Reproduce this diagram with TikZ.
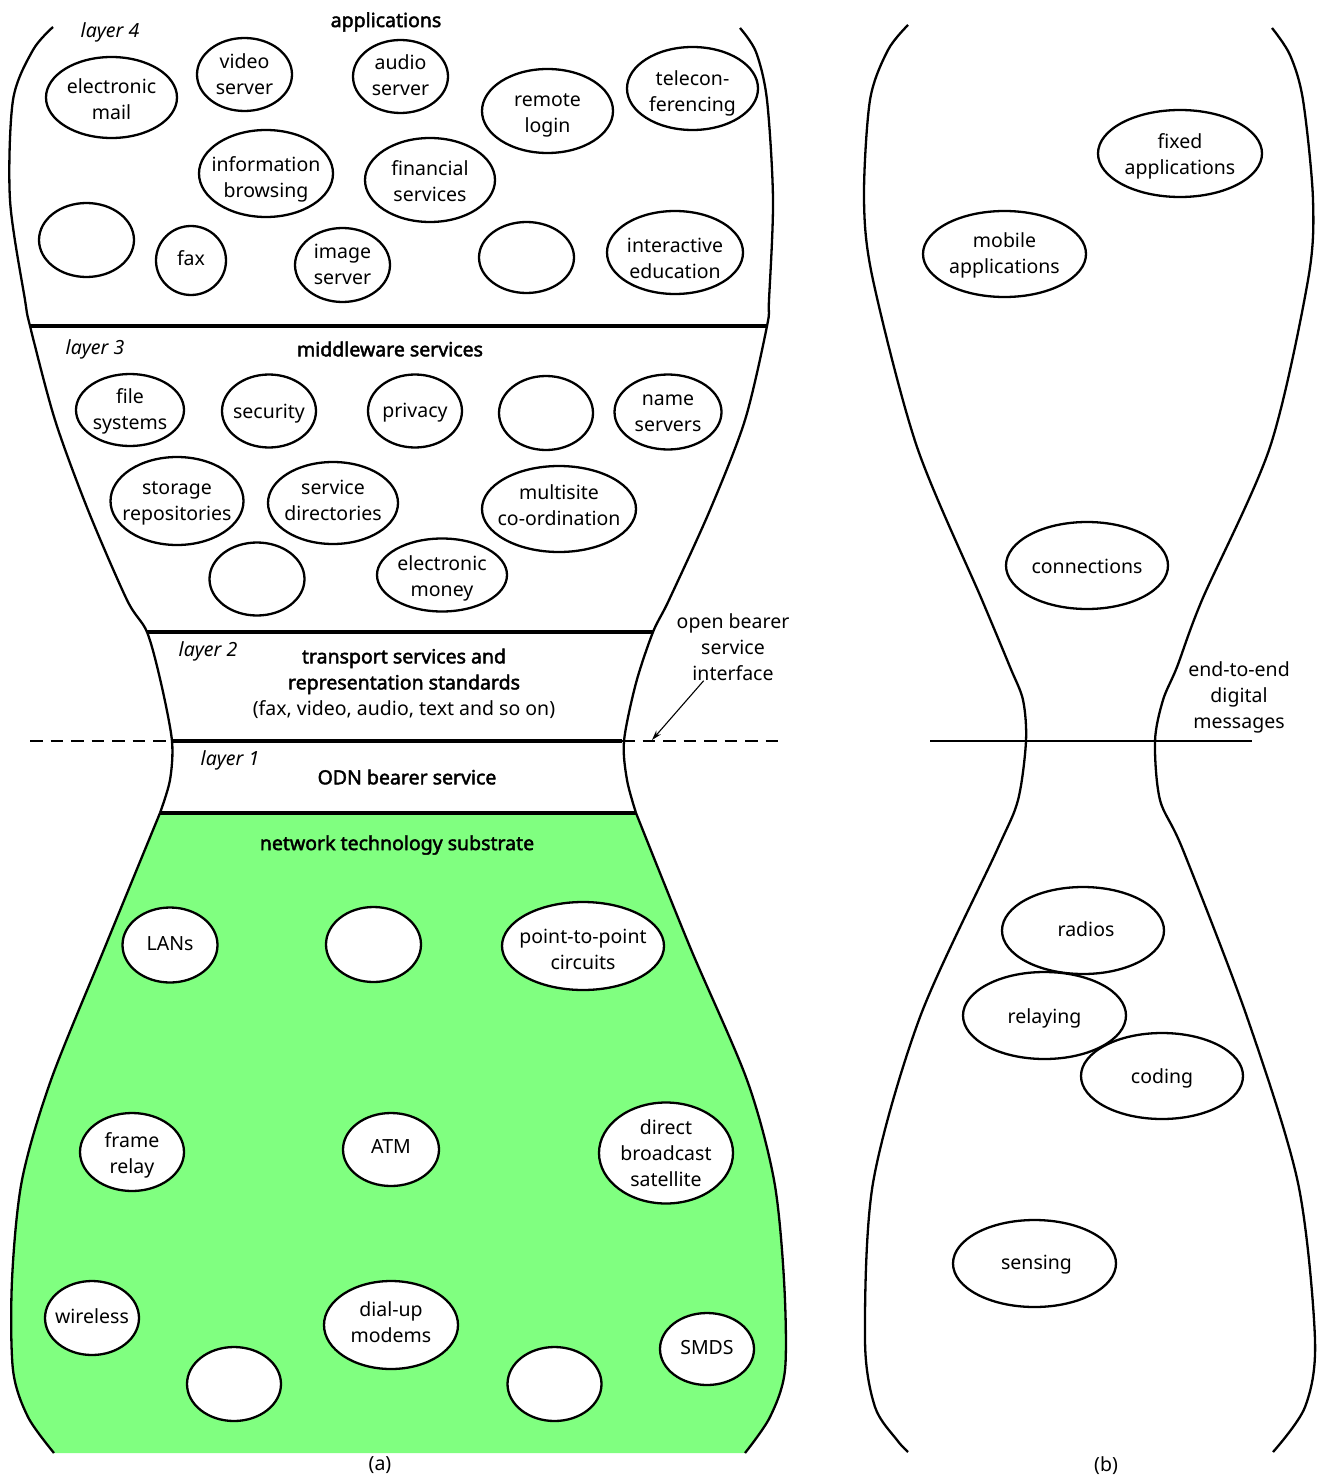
\documentclass[tikz,border=0pt]{standalone}
\usepackage{fontspec}
\setmainfont{Noto Sans}[AutoFakeBold=2.2]
\usetikzlibrary{shapes.geometric,arrows.meta}
\definecolor{subgreen}{RGB}{128,255,128}
\newcommand\dfont{\fontsize{19.5pt}{26pt}\selectfont}
\begin{document}
\begin{tikzpicture}[x=1pt,y=-1pt,
  txt/.style={font=\dfont, align=center, inner sep=0pt},
  bub/.style n args={4}{ellipse, draw, fill=white, line width=2.3pt,
     minimum width=#1pt, minimum height=#2pt, inner sep=0pt,
     label={[txt,yshift=#3pt]center:#4}},
  bnd/.style={line width=2.3pt},
  layerline/.style={line width=3.2pt},
  dashline/.style={line width=2.2pt, dash pattern=on 12.8pt off 7.7pt},
  hdr/.style={txt, font=\dfont\bfseries},
  lay/.style={txt, font=\dfont\itshape}]
\useasboundingbox (0,0) rectangle (1316,1479);

% ---------- (a) green substrate ----------
\fill[subgreen] plot[smooth] coordinates {(160,813) (105,947) (51,1080) (22,1180) (12,1280) (13,1370) (28,1417) (54,1453)}
  -- plot[smooth] coordinates {(745,1453) (770,1417) (785,1370) (784,1280) (774,1180) (747,1080) (690,947) (636,813)} -- cycle;

% ---------- (a) boundaries ----------
\draw[bnd] plot[smooth] coordinates {(53,27) (33,50) (13,100) (10,200) (25,300) (30,326) (55,420) (88,510) (127,600) (147,632) (161,683) (172,741) (170,780) (160,813)};
\draw[bnd] plot[smooth] coordinates {(160,813) (105,947) (51,1080) (22,1180) (12,1280) (13,1370) (28,1417) (54,1453)};
\draw[bnd] plot[smooth] coordinates {(740,28) (756,52) (767,100) (773,200) (769,300) (767,326) (745,420) (710,510) (669,600) (653,632) (636,683) (624,741) (627,780) (636,813)};
\draw[bnd] plot[smooth] coordinates {(636,813) (690,947) (747,1080) (774,1180) (784,1280) (785,1370) (770,1417) (745,1453)};

% layer separators
\coordinate (l43a) at (30,326);  \coordinate (l43b) at (767,326);
\coordinate (l32a) at (147,632); \coordinate (l32b) at (653,632);
\coordinate (l21a) at (172,741); \coordinate (l21b) at (622,741);
\coordinate (l10a) at (160,813); \coordinate (l10b) at (636,813);
\coordinate (dsa) at (30,741);   \coordinate (dsb) at (778,741);
\draw[layerline] (l43a) -- (l43b);
\draw[layerline] (l32a) -- (l32b);
\draw[layerline] (l21a) -- (l21b);
\draw[layerline] (l10a) -- (l10b);
\draw[dashline] (dsa) -- (l21a);
\draw[dashline] (l21b) -- (dsb);

% ---------- (a) texts ----------
\node[lay] (lay4) at (110,32) {layer 4};
\node[hdr] (appl) at (386,22) {applications};
\node[lay] (lay3) at (95,349) {layer 3};
\node[hdr] (mws) at (390,349) {middleware services};
\node[lay] (lay2) at (208,651) {layer 2};
\node[txt] (tss) at (404,683.5) {\textbf{transport services and}\\\textbf{representation standards}\\(fax, video, audio, text and so on)};
\node[lay] (lay1) at (230,760) {layer 1};
\node[hdr] (odn) at (407,777) {ODN bearer service};
\node[hdr] (nts) at (397,845) {network technology substrate};
\node[txt] (obsi) at (733,647) {open bearer\\service\\interface};
\coordinate (tip) at (652,740);
\draw[line width=1.1pt, -{Stealth[length=10pt,width=6pt]}] (obsi) -- (tip);
\node[txt] (capa) at (380,1465) {(a)};

% ---------- layer 4 ----------
\node[bub={131}{81}{-2}{electronic\\mail}] (em) at (111.5,97.5) {};
\node[bub={95}{73}{0}{video\\server}] (vs) at (244.5,74.5) {};
\node[bub={95}{73}{1}{audio\\server}] (as) at (400.5,76.5) {};
\node[bub={131}{84}{-4.5}{remote\\login}] (rl) at (547.5,111) {};
\node[bub={131}{83}{-4.5}{telecon-\\ferencing}] (tc) at (692.5,88.5) {};
\node[bub={134}{87}{-5.5}{information\\browsing}] (ib) at (266,173.5) {};
\node[bub={130}{84}{-1.5}{financial\\services}] (fin) at (430,180) {};
\node[bub={95}{74}{0}{}] (e1) at (86.5,240) {};
\node[bub={70}{69}{2}{fax}] (fax) at (191,260.5) {};
\node[bub={95}{74}{1}{image\\server}] (is) at (342.5,265) {};
\node[bub={95}{71}{0}{}] (e2) at (526.5,257.5) {};
\node[bub={136}{83}{-6}{interactive\\education}] (ie) at (675,252.5) {};

% ---------- layer 3 ----------
\node[bub={108}{72}{-1.5}{file\\systems}] (fsys) at (130,410) {};
\node[bub={94}{73}{-3}{security}] (sec) at (269,411) {};
\node[bub={94}{73}{-2}{privacy}] (priv) at (415,411) {};
\node[bub={94}{74}{0}{}] (e3) at (546,413) {};
\node[bub={107}{75}{-1.5}{name\\servers}] (ns) at (668,412) {};
\node[bub={133}{88}{-2.5}{storage\\repositories}] (sr) at (177,501) {};
\node[bub={130}{82}{2.5}{service\\directories}] (sd) at (333,503) {};
\node[bub={154}{86}{4}{multisite\\co-ordination}] (mc) at (559,509) {};
\node[bub={95}{73}{0}{}] (e4) at (257,579) {};
\node[bub={130}{73}{-3}{electronic\\money}] (emo) at (442,575) {};

% ---------- substrate ----------
\node[bub={95}{75}{1}{LANs}] (lan) at (170,945) {};
\node[bub={95}{75}{0}{}] (g1) at (373.5,944.5) {};
\node[bub={162}{88}{-3}{point-to-point\\circuits}] (ptp) at (583,946) {};
\node[bub={104}{78}{-3}{frame\\relay}] (fr) at (132,1152) {};
\node[bub={96}{73}{3}{ATM}] (atm) at (391,1149.5) {};
\node[bub={134}{101}{0}{direct\\broadcast\\satellite}] (dbs) at (666,1153) {};
\node[bub={94}{74}{2}{wireless}] (wl) at (92,1318) {};
\node[bub={134}{88}{2.5}{dial-up\\modems}] (du) at (391,1325) {};
\node[bub={94}{72}{1}{SMDS}] (smds) at (707,1349) {};
\node[bub={94}{74}{0}{}] (g2) at (234,1384) {};
\node[bub={94}{74}{0}{}] (g3) at (554.5,1384) {};

% ---------- (b) ----------
\draw[bnd] plot[smooth] coordinates {(908,25) (888,50) (870,100) (864,200) (873,280) (917,447) (982,600) (1010,667) (1023,700) (1026,741) (1018,800) (997,850) (920,1017) (873,1183) (865,1340) (875,1407) (897,1440) (908,1452)};
\draw[bnd] plot[smooth] coordinates {(1272,28) (1290,55) (1303,100) (1313,200) (1308,280) (1270,447) (1202,600) (1177,667) (1163,700) (1155,741) (1160,800) (1183,850) (1247,1017) (1298,1183) (1315,1340) (1305,1407) (1273,1452)};
\coordinate (mla) at (930,741); \coordinate (mlb) at (1252,741);
\draw[line width=2pt] (mla) -- (mlb);
\node[txt] (e2e) at (1239,697.5) {end-to-end\\digital\\messages};

\node[bub={164}{87}{-2.5}{fixed\\applications}] (fa) at (1180,153.5) {};
\node[bub={163}{86}{-1.5}{mobile\\applications}] (ma) at (1004.5,254) {};
\node[bub={162}{87}{-1}{connections}] (conn) at (1087,565.5) {};
\node[bub={162}{86}{-2}{coding}] (cod) at (1162,1076) {};
\node[bub={162}{87}{1}{\hspace*{6pt}radios}] (rad) at (1083,930.5) {};
\node[bub={163}{87}{-3}{relaying}] (rel) at (1044.5,1015.5) {};
\node[bub={163}{87}{-1}{\hspace*{4pt}sensing}] (sen) at (1034.5,1263.5) {};
\node[txt] (capb) at (1106,1466) {(b)};
\end{tikzpicture}
\end{document}
